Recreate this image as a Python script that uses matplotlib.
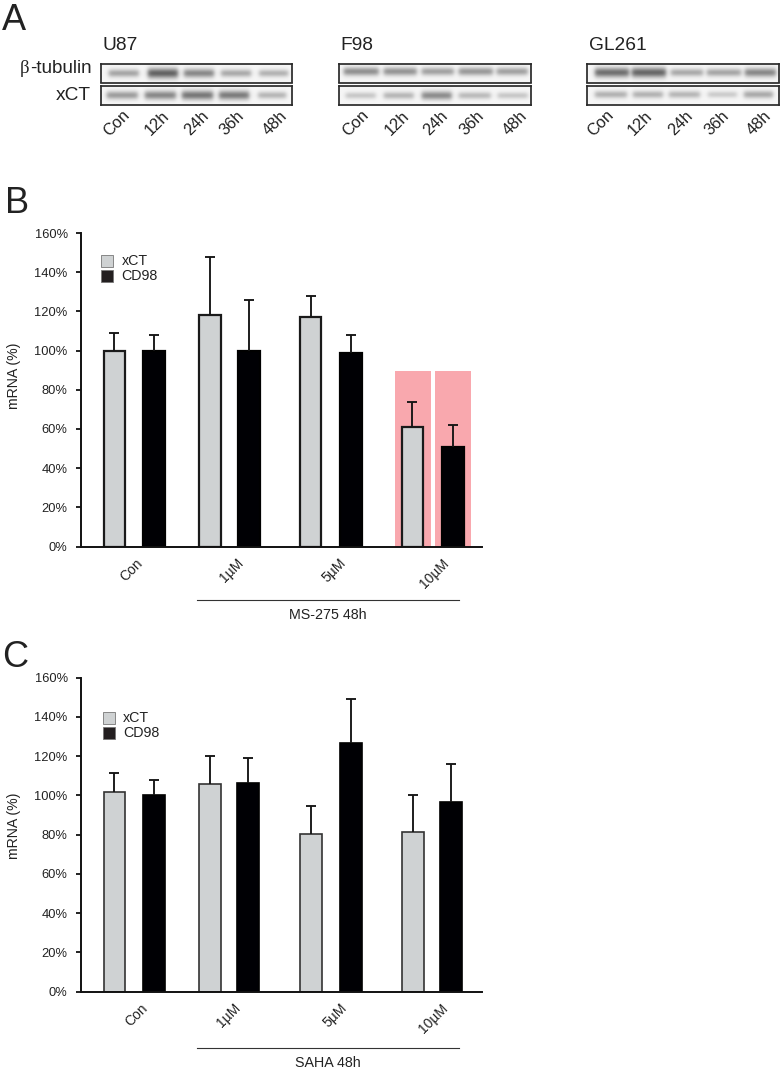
import numpy as np
import matplotlib
matplotlib.use("Agg")
import matplotlib.pyplot as plt
from matplotlib.patches import Rectangle

plt.rcParams['font.family'] = ['Liberation Sans', 'DejaVu Sans']

# ---------- data ----------
doses = ['Con', '1µM', '5µM', '10µM']
ms275_xct = [100, 118, 117, 61]
ms275_cd98 = [100, 100, 99, 51]
ms275_xct_err = [9, 30, 11, 13]
ms275_cd98_err = [8, 26, 9, 11]
saha_xct = [102, 106, 80.5, 81.5]
saha_cd98 = [100, 106.5, 126.5, 96.5]
saha_xct_err = [9.2, 14.3, 14.3, 18.5]
saha_cd98_err = [8, 12.5, 22.4, 19.5]
yticks = [0, 20, 40, 60, 80, 100, 120, 140, 160]
times = ['Con', '12h', '24h', '36h', '48h']
# band darkness per lane, read from the blots
u87_tub = [0.38, 0.70, 0.52, 0.36, 0.32]
u87_xct = [0.42, 0.52, 0.60, 0.58, 0.30]
f98_tub = [0.48, 0.46, 0.40, 0.44, 0.40]
f98_xct = [0.22, 0.30, 0.50, 0.28, 0.22]
gl_tub = [0.64, 0.68, 0.36, 0.38, 0.52]
gl_xct = [0.32, 0.32, 0.30, 0.20, 0.36]

# ---------- layout (pixels) ----------
W, H = 782, 1072
fig = plt.figure(figsize=(W / 100, H / 100), dpi=100, facecolor='white')
TXT = '#222222'
GRAY = '#cfd2d3'


def axes_px(x0, y0, x1, y1):
    return fig.add_axes([x0 / W, 1 - y1 / H, (x1 - x0) / W, (y1 - y0) / H])


def ftext(x, y, s, **kw):
    kw.setdefault('color', TXT)
    kw.setdefault('ha', 'center')
    kw.setdefault('va', 'center')
    return fig.text(x / W, 1 - y / H, s, **kw)


def bar_panel(y0, y160, xct, cd98, xct_err, cd98_err, xl, xr, wgray, wblack, tickx,
              pink, leg, edgew, edgec, ylab_y, under_y, under_txt, under_label):
    ax = axes_px(80.7, y160, 481.7, y0)
    ax.set_xlim(80.7, 481.7)
    ax.set_ylim(0, 160)
    ax.patch.set_alpha(0)
    if pink:
        for a, b in pink:
            ax.add_patch(Rectangle((a, 0), b - a, 89.5, fc='#f9a8ae', ec='none', zorder=1))
    inset = edgew * 100 / 72 / 2
    ax.bar([x + inset for x in xl], xct, width=wgray - 2 * inset, align='edge', color=GRAY,
           edgecolor=edgec, linewidth=edgew, zorder=2)
    ax.bar([x + inset for x in xr], cd98, width=wblack - 2 * inset, align='edge',
           color='#000004', edgecolor='black', linewidth=edgew, zorder=2)
    for xs, w, vals, errs in ((xl, wgray, xct, xct_err), (xr, wblack, cd98, cd98_err)):
        cx = [x + w / 2 for x in xs]
        cont = ax.errorbar(cx, vals, yerr=[np.zeros(4), errs], fmt='none', ecolor='#151515',
                           elinewidth=1.35, capsize=3.6, capthick=1.35, zorder=3)
        cont[1][0].set_visible(False)
    for s in ('top', 'right'):
        ax.spines[s].set_visible(False)
    for s in ('left', 'bottom'):
        ax.spines[s].set_linewidth(1.4)
        ax.spines[s].set_color('#111111')
    ax.set_yticks(yticks)
    ax.set_yticklabels([f'{v}%' for v in yticks], fontsize=9.3, color=TXT)
    ax.tick_params(axis='y', length=3.4, width=1.3, pad=6, color='#111111')
    ax.set_xticks(tickx)
    ax.set_xticklabels(doses, rotation=45, ha='center', va='top', fontsize=10, color=TXT)
    ax.tick_params(axis='x', length=0, pad=6.8)
    ftext(14, ylab_y, 'mRNA (%)', rotation=90, fontsize=10.2)
    # legend
    lx, ly1, ly2, tx = leg
    for yy, col, lab in ((ly1, GRAY, 'xCT'), (ly2, '#231f20', 'CD98')):
        fig.add_artist(Rectangle((lx / W, 1 - (yy + 12) / H), 12 / W, 12 / H, fc=col,
                                 ec='#777777', lw=0.6, transform=fig.transFigure))
        ftext(tx, yy + 6, lab, ha='left', fontsize=10.3)
    # treatment underline
    fig.add_artist(plt.Line2D([197.3 / W, 459.3 / W], [1 - under_y / H] * 2, color='#333333',
                              lw=0.8, transform=fig.transFigure))
    ftext(327.7, under_txt, under_label, fontsize=10.3)


bar_panel(546.5, 233, ms275_xct, ms275_cd98, ms275_xct_err, ms275_cd98_err,
          [102.7, 198.3, 299, 400.7], [142, 237.3, 339.3, 440.7], 23.4, 24,
          [131.7, 231.7, 334, 434],
          [(395, 430.7), (435, 470.7)],
          (101.2, 255, 270, 121.5), 1.6, '#1a1a1a', 376, 600.3, 615, 'MS-275 48h')
bar_panel(991.7, 677.7, saha_xct, saha_cd98, saha_xct_err, saha_cd98_err,
          [102.7, 198.3, 299.3, 401.3], [142, 236, 339.3, 439.3], 23.4, 24,
          [136, 229, 335, 433],
          None,
          (103.4, 712, 727.3, 123), 1.2, '#333333', 826, 1048, 1063.3, 'SAHA 48h')


# ---------- panel A: blots ----------
def blot(x0, y0, x1, y1, lanes, dark, band_y, sig):
    ax = axes_px(x0, y0, x1, y1)
    xs = np.arange(x0, x1, 0.5)
    ys = np.arange(y0, y1, 0.5)
    img = np.zeros((len(ys), len(xs)))
    for (a, b), d in zip(lanes, dark):
        prof = 0.5 * (np.tanh((xs - a) / 2.5) - np.tanh((xs - b) / 2.5))
        s = sig * (0.75 + 1.0 * d)
        img += d * np.outer(np.exp(-0.5 * ((ys - band_y) / s) ** 2), prof)
    val = 0.965 - np.clip(img, 0, 1) * 0.82
    ax.imshow(val, cmap='gray', vmin=0, vmax=1, aspect='auto', interpolation='bilinear',
              extent=(x0, x1, y1, y0))
    ax.set_xticks([])
    ax.set_yticks([])
    for s in ax.spines.values():
        s.set_linewidth(1.25)
        s.set_color('#2a2a2a')


blots = [
    (100.5, 292, u87_tub, u87_xct,
     [(108, 138), (147, 177), (183, 213), (220, 250), (258, 287)],
     [(106, 137), (144, 175), (181, 212), (218, 248), (257, 285)], 73.7, 95.7),
    (338.5, 530.5, f98_tub, f98_xct,
     [(343, 378), (383, 416), (421, 453), (458, 492), (496, 527)],
     [(345, 375), (383, 413), (421, 451), (458, 490), (497, 527)], 72, 96),
    (587.3, 779.3, gl_tub, gl_xct,
     [(595, 629), (632, 666), (671, 703), (707, 741), (745, 776)],
     [(595, 627), (633, 663), (669, 700), (708, 737), (744, 773)], 73, 95),
]
for x0, x1, tub, xct, lanes1, lanes2, by1, by2 in blots:
    blot(x0, 64, x1, 82.5, lanes1, tub, by1, 2.4)
    blot(x0, 86, x1, 104.5, lanes2, xct, by2, 2.4)

# lane labels
lane_x = {'U87': [117, 157, 197, 232, 275],
          'F98': [356, 397, 436, 472, 515],
          'GL261': [601, 640, 681, 717, 759]}
for name, lx, tx in (('U87', lane_x['U87'], 120.5), ('F98', lane_x['F98'], 356.5),
                     ('GL261', lane_x['GL261'], 618)):
    ftext(tx, 45.5, name, fontsize=13.8)
    for x, t in zip(lx, times):
        ftext(x, 123.5, t, rotation=45, fontsize=11.8)

ftext(24.5, 68.5, 'β', fontsize=13.5, family='Liberation Serif')
ftext(60.5, 68.5, '-tubulin', fontsize=13.6)
ftext(91, 95, 'xCT', ha='right', fontsize=13.8)

ftext(2, 30, 'A', fontsize=26, ha='left', va='baseline')
ftext(5, 213, 'B', fontsize=26, ha='left', va='baseline')
ftext(2, 667, 'C', fontsize=26, ha='left', va='baseline')

fig.savefig('out.png', dpi=100, facecolor='white')
